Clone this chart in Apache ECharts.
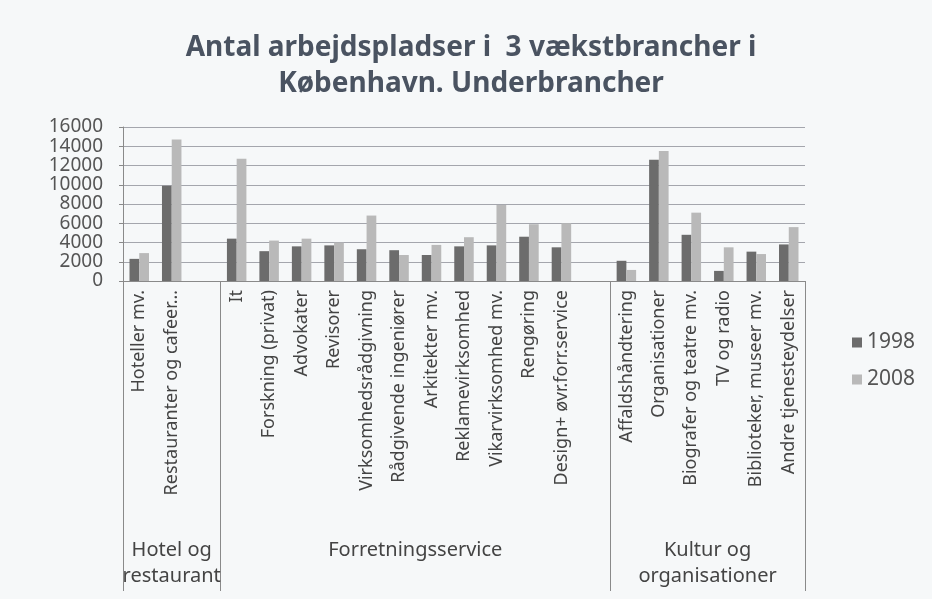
<!DOCTYPE html>
<html>
<head>
<meta charset="utf-8">
<script src="https://cdn.jsdelivr.net/npm/echarts@6/dist/echarts.min.js"></script>
<style>
  html, body { margin: 0; padding: 0; background: #f6f8f9; }
  #chart { width: 932px; height: 599px; }
</style>
</head>
<body>
<div id="chart"></div>
<script>
// underbrancher, with empty slots between the three groups
const categories = [
  'Hoteller mv.', 'Restauranter og cafeer…', '',
  'It', 'Forskning (privat)', 'Advokater', 'Revisorer', 'Virksomhedsrådgivning',
  'Rådgivende ingeniører', 'Arkitekter mv.', 'Reklamevirksomhed', 'Vikarvirksomhed mv.',
  'Rengøring', 'Design+ øvr.forr.service', ' ',
  'Affaldshåndtering', 'Organisationer', 'Biografer og teatre mv.', 'TV og radio',
  'Biblioteker, museer mv.', 'Andre tjenesteydelser'
];
const values1998 = [
  2300, 9900, null,
  4400, 3100, 3600, 3700, 3300, 3200, 2700, 3600, 3700, 4600, 3500, null,
  2100, 12600, 4800, 1050, 3050, 3800
];
const values2008 = [
  2900, 14700, null,
  12700, 4200, 4400, 4000, 6800, 2700, 3750, 4550, 7900, 5900, 6000, null,
  1150, 13500, 7100, 3500, 2800, 5600
];
const seriesNames = ['1998', '2008'];
// group labels sit on a half-slot axis (43 points over 21 slots)
const groupNames = { 3: 'Hotel og\nrestaurant', 18: 'Forretningsservice', 36: 'Kultur og\norganisationer' };
const groupBounds = [0, 6, 30, 42];
const groupAxis = [];
for (let j = 0; j <= 42; j++) groupAxis.push(groupNames[j] || '');

const font = '"Noto Sans", "Open Sans", sans-serif';
const chart = echarts.init(document.getElementById('chart'));

chart.setOption({
  backgroundColor: '#f6f8f9',
  title: {
    text: 'Antal arbejdspladser i  3 vækstbrancher i\nKøbenhavn. Underbrancher',
    left: 466,
    textAlign: 'center',
    top: 25,
    textStyle: {
      fontFamily: font, fontSize: 28, fontWeight: 'bold', color: '#4a5361', lineHeight: 36
    }
  },
  legend: {
    data: seriesNames,
    orient: 'vertical',
    left: 847,
    top: 327,
    itemWidth: 10,
    itemHeight: 10,
    itemGap: 16,
    icon: 'rect',
    textStyle: { fontFamily: font, fontSize: 21, color: '#555' }
  },
  grid: { left: 123, right: 127, top: 127, bottom: 318 },
  xAxis: [
    {
      type: 'category',
      data: categories,
      axisLine: { lineStyle: { color: '#8a8a8a' } },
      axisTick: { show: false },
      axisLabel: {
        interval: 0, rotate: 90, margin: 9,
        fontFamily: font, fontSize: 18, color: '#444'
      }
    },
    {
      type: 'category',
      data: groupAxis,
      boundaryGap: false,
      position: 'bottom',
      axisLine: { show: false },
      axisTick: {
        show: true,
        length: 310,
        interval: function (index) { return groupBounds.indexOf(index) >= 0; },
        lineStyle: { color: '#8a8a8a' }
      },
      axisLabel: {
        interval: 0, margin: 256, verticalAlign: 'top',
        fontFamily: font, fontSize: 20, color: '#444', lineHeight: 26
      }
    }
  ],
  yAxis: {
    type: 'value',
    min: 0, max: 16000, interval: 2000,
    axisLine: { show: true, lineStyle: { color: '#8a8a8a' } },
    axisTick: { show: true, length: 4, lineStyle: { color: '#8a8a8a' } },
    axisLabel: {
      margin: 20, fontFamily: font, fontSize: 19, lineHeight: 19, color: '#555',
      showMinLabel: true, showMaxLabel: true, hideOverlap: false,
      formatter: function (v) { return String(v); }
    },
    splitLine: { lineStyle: { color: '#a4a6ad' } }
  },
  series: [
    {
      name: seriesNames[0], type: 'bar', data: values1998,
      barGap: '0%', barCategoryGap: '40%',
      itemStyle: { color: '#6c6c6c' }
    },
    {
      name: seriesNames[1], type: 'bar', data: values2008,
      itemStyle: { color: '#b9b9b9' }
    }
  ]
});
</script>
</body>
</html>
